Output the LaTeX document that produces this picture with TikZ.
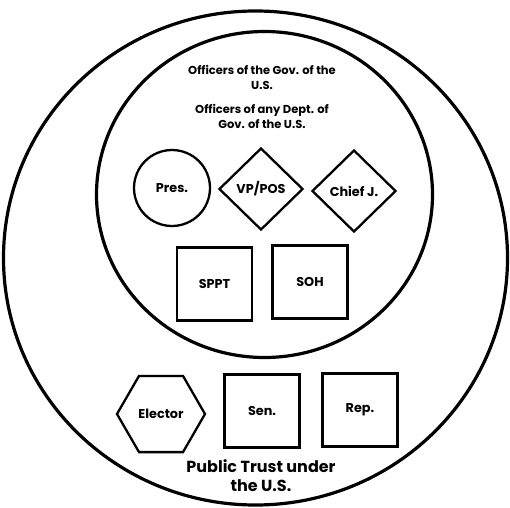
\documentclass[tikz,border=0pt]{standalone}
\usepackage{fontspec}
\setmainfont{Poppins}[BoldFont=* Bold]
\usetikzlibrary{shapes.geometric}
\begin{document}
\begin{tikzpicture}[x=1pt,y=1pt,
    office/.style={draw, line width=2.3pt, font=\bfseries\fontsize{12.8}{14}\selectfont, inner sep=0pt},
    boxnode/.style={office, rectangle, minimum width=75pt, minimum height=73pt},
    label/.style={align=center, font=\bfseries\fontsize{11.5}{15}\selectfont}]
    \useasboundingbox (0,0) rectangle (510,507);
    \coordinate (O) at (255.5,249);   % outer ring
    \coordinate (I) at (264.5,312.5); % inner ring

    \draw[line width=3.2pt] (O) ellipse [x radius=252, y radius=247];
    \draw[line width=3.2pt] (I) ellipse [x radius=168, y radius=163];

    \node[label] (gov) at (262,430) {Officers of the Gov. of the\\U.S.};
    \node[label] (dept) at (262,391) {Officers of any Dept. of\\Gov. of the U.S.};

    \node[office, circle, minimum size=76pt] (pres) at (172,319) {Pres.};
    \node[office, diamond, minimum width=84pt, minimum height=82pt] (vp) at (261,318) {VP/POS};
    \node[office, diamond, minimum width=84pt, minimum height=82pt] (chief) at (354,316) {Chief J.};

    \node[boxnode] (sppt) at (214.5,223) {SPPT};
    \node[boxnode] (soh) at (310,225) {SOH};

    \node[office, regular polygon, regular polygon sides=6, minimum size=88pt] (elector) at (161,93) {Elector};
    \node[boxnode] (sen) at (262,96) {Sen.};
    \node[boxnode] (rep) at (360,97) {Rep.};

    \node[label, font=\bfseries\fontsize{16}{19}\selectfont] (trust) at (261,31) {Public Trust under\\the U.S.};
\end{tikzpicture}
\end{document}
